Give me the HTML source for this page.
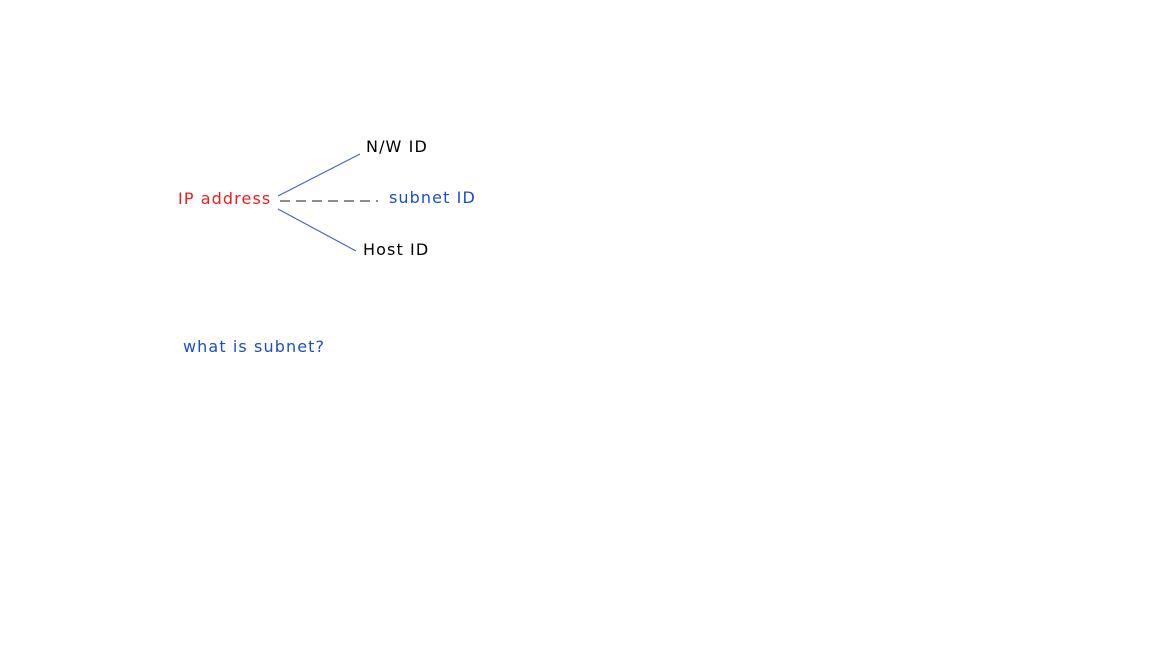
<!DOCTYPE html>
<html><head><meta charset="utf-8"><style>
html,body{margin:0;padding:0;background:#fff;width:1168px;height:657px;overflow:hidden}
.t{position:absolute;font-family:"DejaVu Sans","Liberation Sans",sans-serif;font-size:16px;line-height:20px;white-space:nowrap;letter-spacing:1.1px}
</style></head><body>
<svg width="1168" height="657" style="position:absolute;left:0;top:0">
<line x1="278" y1="196" x2="360" y2="154" stroke="#3a62d0" stroke-width="1"/>
<line x1="278" y1="209" x2="356" y2="251" stroke="#3a62d0" stroke-width="1"/>
<line x1="280" y1="201" x2="378" y2="201" stroke="#666" stroke-width="1.5" stroke-dasharray="10,6"/>
</svg>
<div class="t" style="left:178px;top:189px;color:#ee1c1c">IP address</div>
<div class="t" style="left:366px;top:137px;color:#000">N/W ID</div>
<div class="t" style="left:389px;top:188px;color:#1a4fc8">subnet ID</div>
<div class="t" style="left:363px;top:240px;color:#000">Host ID</div>
<div class="t" style="left:183px;top:337px;color:#1a4fc8">what is subnet?</div>
</body></html>
